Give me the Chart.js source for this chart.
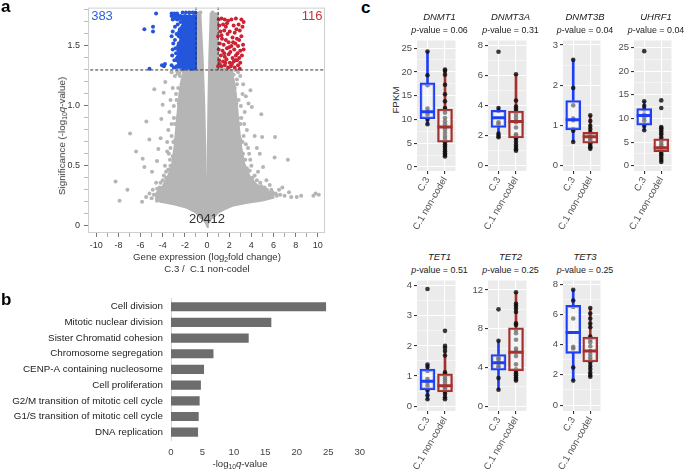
<!DOCTYPE html>
<html><head><meta charset="utf-8">
<script src="https://cdn.jsdelivr.net/npm/chart.js@4.4.1/dist/chart.umd.min.js"></script>
<style>
html,body{margin:0;padding:0;background:#fff;}
body{width:685px;height:471px;position:relative;overflow:hidden;font-family:"Liberation Sans",Arial,Helvetica,sans-serif;}
canvas{position:absolute;}
.t{position:absolute;white-space:nowrap;transform:translate(-50%,-50%);color:#1a1a1a;line-height:1;}
.r{transform:translate(-50%,-50%) rotate(-90deg);}
.pl{position:absolute;font-weight:bold;font-size:17px;line-height:1;color:#000;}
.sb{font-size:0.7em;position:relative;top:0.3em;}
</style></head><body>
<canvas id="volcano" width="335" height="252" style="left:0;top:0"></canvas>
<canvas id="goBar" width="372" height="186" style="left:0;top:285px"></canvas>
<div id="texts"></div>
<script>
// ================= Panel a : volcano =================
const downCount = 383, upCount = 116, nsCount = 20412;
const qCutoff = 1.30;      // -log10(0.05)
const fcCutoff = 1.0;      // |log2 FC|
const volcanoXMajor = [-10,-8,-6,-4,-2,0,2,4,6,8,10];
const volcanoYMajor = [0,0.5,1.0,1.5];
const volcanoYLabels = ['0','0.5','1.0','1.5'];
// dense grey cloud outline
const greyLobeLeft = [[0,-0.01],[-0.05,0.2],[-0.15,0.6],[-0.25,1.0],[-0.4,1.4],[-0.6,1.77],[-0.98,1.77],[-0.98,1.31],[-2.0,1.31],[-2.3,1.22],[-2.5,1.1],[-2.65,0.95],[-2.8,0.8],[-2.95,0.65],[-3.15,0.52],[-3.5,0.42],[-4.0,0.33],[-4.6,0.27],[-4.6,0.22],[-4.2,0.2],[-3.0,0.18],[-1.8,0.15],[-1.0,0.11],[-0.5,0.06]];
const greyLobeRight = [[0,-0.01],[0.05,0.2],[0.08,0.6],[0.12,1.0],[0.2,1.4],[0.33,1.77],[0.98,1.77],[0.98,1.31],[2.1,1.31],[2.4,1.22],[2.6,1.1],[2.75,0.95],[2.9,0.8],[3.1,0.65],[3.35,0.52],[3.8,0.42],[4.4,0.35],[5.2,0.3],[6.0,0.27],[6.0,0.235],[5.0,0.21],[3.5,0.19],[2.4,0.17],[1.6,0.14],[1.0,0.11],[0.5,0.06]];
const greyPoints = [[-8.26,0.37],[-7.9,0.21],[-7.19,0.30],[-6.95,0.77],[-6.41,0.62],[-5.87,0.20],[-5.81,0.56],[-5.66,0.49],[-5.48,0.87],[-5.21,0.72],[-4.97,0.45],[-4.76,1.14],[-4.52,0.54],[-4.40,0.64],[-4.19,0.73],[-4.01,1.01],[-4.13,0.89],[-4.28,0.32],[-4.52,0.21],[-4.07,0.24],[-3.92,1.11],[-3.77,1.20],
[10.09,0.26],[9.8,0.27],[9.6,0.25],[8.5,0.25],[7.4,0.28],[7.3,0.55],[6.14,0.74],[6.1,0.57],[6.8,0.32],[6.5,0.30],[4.9,0.93],[4.97,0.74],[4.3,0.75],[4.5,0.65],[4.76,0.6],[5.06,0.49],[5.36,0.38],[5.66,0.34],[4.04,0.99],[3.74,1.02],[3.92,1.13],[3.26,1.18],
[-3.4,0.95],[-3.5,0.8],[-3.3,1.05],[-3.6,0.62],[-3.8,0.5],[-3.9,0.42],[-4.6,0.36],[-4.9,0.3],[-5.2,0.27],[-5.5,0.24],[-3.1,1.15],[-2.9,1.25],[-3.2,1.28],[-2.7,1.29],[-3.0,0.9],[-3.2,0.75],[-3.35,0.55],[-3.7,0.4],[-4.3,0.28],[-2.8,1.1],[-2.5,1.27],[-3.6,0.7],[-3.3,0.65],
[3.0,1.25],[2.8,1.28],[3.2,1.1],[3.4,0.95],[3.6,0.8],[3.5,0.68],[3.8,0.6],[4.0,0.5],[4.3,0.42],[4.8,0.36],[5.2,0.32],[5.8,0.3],[6.2,0.27],[6.6,0.26],[7.0,0.25],[7.6,0.24],[8.1,0.24],[3.1,0.9],[3.3,0.75],[3.9,0.55],[4.6,0.45],[2.7,1.22],[3.5,1.08],
[-0.6,1.78],[-0.8,1.77],[0.5,1.78],[0.7,1.76],[0.85,1.7],[-0.95,1.5],[0.95,1.45],[-0.95,1.7],[0.9,1.6],
[-2.1,1.28],[-2.3,1.18],[-2.45,1.25],[-2.6,1.15],[-2.55,1.02],[-2.75,1.05],[-2.7,0.9],[-2.9,0.85],[-2.85,0.72],[-3.05,0.7],[-3.1,0.58],[-3.3,0.5],[-3.5,0.47],[-3.7,0.45],[-4.0,0.38],[-4.2,0.36],[-4.5,0.31],[-4.8,0.26],[-5.0,0.23],[-2.35,1.3],[-2.65,1.27],[-3.0,1.0],[-3.2,0.85],[-3.45,0.6],
[2.2,1.28],[2.4,1.26],[2.5,1.15],[2.7,1.18],[2.65,1.02],[2.85,1.05],[2.8,0.9],[3.0,0.85],[3.0,0.72],[3.2,0.7],[3.25,0.6],[3.45,0.55],[3.6,0.48],[3.85,0.46],[4.1,0.4],[4.5,0.38],[4.9,0.33],[5.4,0.3],[5.9,0.28],[6.3,0.25],[2.55,1.3],[3.05,1.0],[3.35,0.85],[3.7,0.65]];
const blueCore = [[-1.0,1.31],[-1.0,1.75],[-2.3,1.75],[-2.2,1.68],[-2.6,1.62],[-2.4,1.55],[-2.7,1.5],[-2.5,1.44],[-2.8,1.4],[-2.6,1.35],[-2.9,1.31]];
const bluePoints = [[-3.2,1.75],[-3.0,1.75],[-2.8,1.75],[-2.6,1.75],[-2.4,1.75],[-2.2,1.74],[-2.0,1.75],[-1.8,1.74],[-1.6,1.75],[-1.4,1.74],[-1.2,1.75],[-3.1,1.72],[-2.9,1.73],[-2.7,1.72],[-2.5,1.73],[-3.2,1.77],[-2.95,1.77],[-2.7,1.77],
[-4.6,1.77],[-5.66,1.64],[-4.88,1.66],[-4.88,1.62],[-5.2,1.31],[-4.07,1.34],[-3.9,1.33],[-3.8,1.35],
[-3.1,1.62],[-2.9,1.66],[-2.75,1.6],[-3.05,1.52],[-2.85,1.48],[-3.15,1.42],[-2.95,1.38],[-3.2,1.34],[-3.0,1.32],[-2.75,1.33],[-2.9,1.55],[-3.2,1.58],[-2.8,1.44],[-3.1,1.47],[-2.65,1.68],[-2.55,1.58],[-2.6,1.46],[-2.7,1.38],
[-2.4,1.7],[-2.45,1.64],[-2.3,1.58],[-2.55,1.52],[-2.4,1.41],[-2.5,1.36],[-2.35,1.33],[-2.2,1.62],[-2.1,1.7],[-1.05,1.78],[-1.3,1.78],[-1.6,1.78],[-1.9,1.78],[-2.2,1.78],[-1.5,1.31],[-1.8,1.32],[-2.1,1.31],[-1.2,1.31]];
const redPoints = [[1.05,1.72],[1.3,1.73],[1.6,1.72],[1.9,1.71],[2.2,1.72],[2.6,1.73],[3.1,1.72],[3.3,1.70],
[1.1,1.67],[1.45,1.68],[1.7,1.66],[2.4,1.67],[2.85,1.68],[3.2,1.66],
[1.2,1.62],[1.55,1.63],[2.05,1.62],[2.5,1.61],[2.95,1.63],[1.85,1.6],
[1.0,1.58],[1.35,1.56],[2.3,1.57],[2.7,1.56],[3.1,1.58],[1.7,1.55],
[1.15,1.52],[1.5,1.51],[1.95,1.53],[2.2,1.5],[2.55,1.52],[2.8,1.5],[3.25,1.51],
[1.05,1.47],[1.4,1.46],[1.8,1.48],[2.1,1.45],[2.45,1.47],[2.75,1.44],[3.0,1.46],[3.3,1.47],
[1.25,1.42],[1.6,1.41],[1.95,1.43],[2.3,1.4],[2.6,1.42],[2.9,1.4],[3.15,1.42],
[1.1,1.38],[1.45,1.37],[1.75,1.39],[2.05,1.36],[2.4,1.37],[2.7,1.38],[3.0,1.36],
[1.0,1.33],[1.3,1.33],[1.6,1.34],[1.9,1.32],[2.15,1.33],[2.5,1.32],[2.8,1.34],[2.95,1.31],
[1.15,1.35],[2.25,1.35],[1.55,1.44],[2.0,1.49],[2.35,1.53],[1.3,1.59],[2.65,1.64],[1.8,1.69],[2.9,1.55],[1.65,1.36],[2.55,1.38]];

// ================= Panel b : GO terms =================
const goTerms = ['Cell division','Mitotic nuclear division','Sister Chromatid cohesion','Chromosome segregation','CENP-A containing nucleosome','Cell proliferation','G2/M transition of mitotic cell cycle','G1/S transition of mitotic cell cycle','DNA replication'];
const goValues = [24.6,15.9,12.3,6.7,5.2,4.7,4.5,4.35,4.25];
const goTicks = [0,5,10,15,20,25,30];

// ================= Panel c : box plots =================
const groupNames = ['C.3','C.1 non-codel'];
const genes = ['DNMT1','DNMT3A','DNMT3B','UHRF1','TET1','TET2','TET3'];
const pValues = ['0.06','0.31','0.04','0.04','0.51','0.25','0.25'];
// points (FPKM) per group
const dnmt1_c3 = [24.3,19.3,17.2,12.3,11.6,11.0,10.0,9.0];
const dnmt1_c1 = [20.5,20.2,19.4,17.3,15.3,13.8,12.4,12.0,11.4,10.3,9.6,9.0,8.4,7.9,7.2,6.5,5.9,5.2,4.7,4.3,3.8,3.3,2.9,2.5,2.2];
const dnmt3a_c3 = [7.6,3.85,3.65,2.9,2.75,2.15,2.0,1.9];
const dnmt3a_c1 = [6.1,4.35,3.95,3.8,3.65,3.4,3.2,3.0,2.9,2.55,2.1,2.0,1.9,1.8,1.6,1.4,1.25,1.1,1.0];
const dnmt3b_c3 = [2.63,1.93,1.5,1.17,1.13,0.91,0.87,0.59];
const dnmt3b_c1 = [1.25,1.11,0.99,0.91,0.83,0.79,0.75,0.71,0.67,0.63,0.56,0.5,0.46,0.42];
const uhrf1_c3 = [24.2,13.6,12.6,11.9,10.8,10.2,9.5,8.4,7.5];
const uhrf1_c1 = [13.8,12.2,8.2,7.9,7.5,7.0,6.6,6.0,5.5,5.0,4.5,4.1,3.8,3.4,3.0,2.6,2.2,1.7,1.2,0.8];
const tet1_c3 = [3.89,1.38,1.3,1.17,0.9,0.79,0.68,0.52,0.36,0.23];
const tet1_c1 = [2.5,2.0,1.93,1.83,1.68,1.12,1.07,1.0,0.92,0.85,0.77,0.68,0.63,0.58,0.49,0.41,0.3,0.23];
const tet2_c3 = [10.0,6.76,5.0,4.83,4.5,4.16,4.0,2.9,1.69];
const tet2_c1 = [11.76,10.57,10.34,10.07,9.73,8.55,8.38,7.87,7.53,6.86,5.95,5.68,5.17,4.32,3.82,3.65,3.41,3.18,2.97,2.8,2.64];
const tet3_c3 = [7.63,6.92,6.49,5.73,3.85,3.74,2.49,1.62];
const tet3_c1 = [6.42,6.05,5.73,5.4,5.15,4.54,4.32,4.15,3.89,3.57,3.35,3.14,2.98,2.81,2.59,2.38,2.16,1.99,1.88];
// box stats: [lower whisker, Q1, median, Q3, upper whisker]
const dnmt1_box_c3 = [9.0,10.1,11.6,17.7,24.3];
const dnmt1_box_c1 = [2.2,5.2,8.4,12.2,20.5];
const dnmt3a_box_c3 = [1.9,2.55,3.2,3.7,3.85];
const dnmt3a_box_c1 = [1.0,1.85,2.95,3.65,6.1];
const dnmt3b_box_c3 = [0.59,0.89,1.14,1.62,2.63];
const dnmt3b_box_c1 = [0.42,0.56,0.72,0.83,1.25];
const uhrf1_box_c3 = [7.5,8.6,10.6,12.1,13.6];
const uhrf1_box_c1 = [0.8,3.0,3.8,5.7,8.2];
const tet1_box_c3 = [0.23,0.54,0.83,1.23,1.38];
const tet1_box_c1 = [0.23,0.47,0.68,1.07,1.83];
const tet2_box_c3 = [1.69,3.72,4.49,5.34,6.76];
const tet2_box_c1 = [2.64,3.65,5.57,8.1,11.76];
const tet3_box_c3 = [1.62,3.42,4.8,6.59,7.63];
const tet3_box_c1 = [1.88,2.85,3.57,4.5,6.42];
// y-axis major ticks per gene
const dnmt1_yticks = [0,5,10,15,20,25];
const dnmt3a_yticks = [0,2,4,6,8];
const dnmt3b_yticks = [0,1,2,3];
const uhrf1_yticks = [0,5,10,15,20,25];
const tet1_yticks = [0,1,2,3,4];
const tet2_yticks = [0,4,8,12];
const tet3_yticks = [0,2,4,6,8];

// ---------- layout (positions, not data) ----------
const FONT = '"Liberation Sans", Arial, Helvetica, sans-serif';
Chart.defaults.font.family = FONT;
Chart.defaults.animation = false;
Chart.defaults.events = [];
Chart.defaults.plugins.legend.display = false;
Chart.defaults.plugins.tooltip.enabled = false;

const panelBg = {id:'panelBg', beforeDraw(chart,args,opts){ if(!opts||!opts.color) return; const a=chart.chartArea,c=chart.ctx; c.save(); c.fillStyle=opts.color; c.fillRect(a.left,a.top,a.right-a.left,a.bottom-a.top); c.restore(); }};
const frame = {id:'frame', afterDatasetsDraw(chart,args,opts){ if(!opts||!opts.color) return; const a=chart.chartArea,c=chart.ctx; c.save(); c.strokeStyle=opts.color; c.lineWidth=1; c.strokeRect(a.left+0.5,a.top+0.5,a.right-a.left-1,a.bottom-a.top-1); c.restore(); }};
Chart.register(panelBg, frame);

const near = (a,b)=>Math.abs(a-b)<1e-6;
const xy = arr => arr.map(p=>({x:p[0],y:p[1]}));

// ---------- volcano ----------
(function(){
  const xTicks=[]; for(let v=-10; v<=10; v++) xTicks.push(v);
  const yTicks=[]; for(let i=0;i<=18;i++) yTicks.push(i/10);
  const GREY='#b5b5b5', BLUE='#2456dc', RED='#cc2233';
  new Chart(document.getElementById('volcano'),{
    type:'scatter',
    data:{datasets:[
      {type:'line', data:[{x:-11,y:qCutoff},{x:11,y:qCutoff}], borderColor:'#333', borderWidth:1, borderDash:[3,2], pointRadius:0, order:0},
      {type:'line', data:[{x:-fcCutoff,y:qCutoff},{x:-fcCutoff,y:2}], borderColor:'#333', borderWidth:1, borderDash:[3,2], pointRadius:0, order:0},
      {type:'line', data:[{x:fcCutoff,y:qCutoff},{x:fcCutoff,y:2}], borderColor:'#333', borderWidth:1, borderDash:[3,2], pointRadius:0, order:0},
      {data:xy(redPoints), backgroundColor:RED, pointRadius:2, borderWidth:0, order:1},
      {data:xy(bluePoints), backgroundColor:BLUE, pointRadius:2, borderWidth:0, order:2},
      {type:'line', data:xy(blueCore), fill:'shape', backgroundColor:BLUE, borderColor:BLUE, borderWidth:2, pointRadius:0, tension:0, order:3},
      {data:xy(greyPoints), backgroundColor:GREY, pointRadius:2, borderWidth:0, order:4},
      {type:'line', data:xy(greyLobeLeft), fill:'shape', backgroundColor:GREY, borderColor:GREY, borderWidth:2, pointRadius:0, tension:0, order:5},
      {type:'line', data:xy(greyLobeRight), fill:'shape', backgroundColor:GREY, borderColor:GREY, borderWidth:2, pointRadius:0, tension:0, order:5}
    ]},
    options:{responsive:false, layout:{padding:{top:4,right:10,left:0,bottom:0}},
      plugins:{frame:{color:'#cfcfcf'}},
      scales:{
        x:{type:'linear', min:-10.75, max:10.65,
           afterBuildTicks:a=>{a.ticks=xTicks.map(v=>({value:v}));},
           ticks:{autoSkip:false, maxRotation:0, color:'#333', font:{size:9}, padding:3,
                  callback:v=>volcanoXMajor.includes(v)?String(v):''},
           grid:{drawOnChartArea:false, tickLength:4, tickColor:c=>volcanoXMajor.includes(c.tick.value)?'#777':'#aaa'},
           border:{display:false}, afterFit:a=>{a.height=19;}},
        y:{type:'linear', min:-0.06, max:1.82,
           afterBuildTicks:a=>{a.ticks=yTicks.map(v=>({value:v}));},
           ticks:{autoSkip:false, color:'#333', font:{size:9, lineHeight:0.8}, padding:4,
                  callback:v=>{const i=volcanoYMajor.findIndex(m=>near(m,v)); return i>=0?volcanoYLabels[i]:'';}},
           grid:{drawOnChartArea:false, tickLength:4, tickColor:c=>volcanoYMajor.some(m=>near(m,c.tick.value))?'#777':'#bbb'},
           border:{display:false}, afterFit:a=>{a.width=88;}}
      }}
  });
})();

// ---------- GO bar chart ----------
new Chart(document.getElementById('goBar'),{
  type:'bar',
  data:{labels:goTerms, datasets:[{data:goValues, backgroundColor:'#6d6d6d', barThickness:8.5}]},
  options:{responsive:false, indexAxis:'y', layout:{padding:{top:10,right:8,left:0,bottom:0}},
    scales:{
      x:{type:'linear', min:0, max:30, afterBuildTicks:a=>{a.ticks=goTicks.map(v=>({value:v}));},
         ticks:{color:'#444', font:{size:9.5}, padding:7, maxRotation:0},
         grid:{display:false, drawTicks:false, tickLength:0}, border:{display:false}, afterFit:a=>{a.height=31;}},
      y:{ticks:{color:'#222', font:{size:9.8}, padding:8, autoSkip:false},
         grid:{display:false, drawTicks:false, tickLength:0}, border:{display:true, color:'#d4d4d4', width:1}, afterFit:a=>{a.width=171;}}
    }}
});

// ---------- box plots ----------
const BOXBLUE='#1f3ff2', BOXRED='#a3312e';
function makeBox(rect, yLim, yMajor, c3, c1, c3Box, c1Box){
  const [L,T,R,B] = rect;
  const YW=26, PT=8, PR=4, XH=66;
  const cv=document.createElement('canvas');
  cv.width=YW+(R-L)+PR; cv.height=PT+(B-T)+XH;
  cv.style.left=(L-YW)+'px'; cv.style.top=(T-PT)+'px';
  document.body.appendChild(cv);
  const step=yMajor[1]-yMajor[0];
  const ticks=[...yMajor];
  for(let i=0;i<yMajor.length;i++){ const m=yMajor[i]+step/2; if(m<yLim[1]) ticks.push(m); }
  if(yMajor[0]-step/2>yLim[0]) ticks.push(yMajor[0]-step/2);
  ticks.sort((a,b)=>a-b);
  const isMajor=v=>yMajor.some(m=>near(m,v));
  const pts=[...c3.map(v=>({x:1,y:v})), ...c1.map(v=>({x:2,y:v}))];
  new Chart(cv,{
    type:'bar',
    data:{datasets:[
      {type:'scatter', data:[{x:1,y:c3Box[2]},{x:2,y:c1Box[2]}], pointStyle:'line', pointRadius:7.5, borderWidth:3, borderColor:[BOXBLUE,BOXRED], order:1},
      {type:'bar', data:[{x:1,y:[c3Box[1],c3Box[3]]},{x:2,y:[c1Box[1],c1Box[3]]}], backgroundColor:'rgba(255,255,255,0.42)', borderColor:[BOXBLUE,BOXRED], borderWidth:2, borderSkipped:false, barThickness:15, grouped:false, order:2},
      {type:'scatter', data:pts, pointRadius:2.3, backgroundColor:'rgba(15,15,15,0.82)', borderWidth:0, order:3},
      {type:'bar', data:[{x:1,y:[c3Box[0],c3Box[1]]},{x:2,y:[c1Box[0],c1Box[1]]}], backgroundColor:[BOXBLUE,BOXRED], borderWidth:0, barThickness:2, grouped:false, order:4},
      {type:'bar', data:[{x:1,y:[c3Box[3],c3Box[4]]},{x:2,y:[c1Box[3],c1Box[4]]}], backgroundColor:[BOXBLUE,BOXRED], borderWidth:0, barThickness:2, grouped:false, order:4}
    ]},
    options:{responsive:false, layout:{padding:{top:PT,right:PR,left:0,bottom:0}},
      plugins:{panelBg:{color:'#ebebeb'}},
      scales:{
        x:{type:'linear', offset:false, min:0.4, max:2.6, afterBuildTicks:a=>{a.ticks=[{value:1},{value:2}];},
           ticks:{callback:v=>groupNames[v-1], minRotation:60, maxRotation:60, autoSkip:false, color:'#4d4d4d', font:{size:9.5}, padding:1},
           grid:{offset:false, color:'#ffffff', lineWidth:1.1, tickColor:'#333', tickLength:3}, border:{display:false}, afterFit:a=>{a.height=XH;}},
        y:{type:'linear', min:yLim[0], max:yLim[1], afterBuildTicks:a=>{a.ticks=ticks.map(v=>({value:v}));},
           ticks:{callback:v=>isMajor(v)?String(v):'', autoSkip:false, color:'#4d4d4d', font:{size:9.5}, padding:2},
           grid:{color:'#ffffff', lineWidth:c=>isMajor(c.tick.value)?1.1:0.5, tickColor:c=>isMajor(c.tick.value)?'#333':'rgba(0,0,0,0)', tickLength:3},
           border:{display:false}, afterFit:a=>{a.width=YW;}}
      }}
  });
}
const boxRects = [[417,38,462,171],[488,38,533,171],[563,38,607,171],[634,38,678,171],[417,278,462,411],[488,278,533,411],[563,278,607,411]];
const yLims = [[-0.85,26.6],[-0.35,8.35],[-0.13,3.11],[-1.1,26.45],[-0.16,4.17],[-0.5,12.98],[-0.39,8.24]];
makeBox(boxRects[0], yLims[0], dnmt1_yticks, dnmt1_c3, dnmt1_c1, dnmt1_box_c3, dnmt1_box_c1);
makeBox(boxRects[1], yLims[1], dnmt3a_yticks, dnmt3a_c3, dnmt3a_c1, dnmt3a_box_c3, dnmt3a_box_c1);
makeBox(boxRects[2], yLims[2], dnmt3b_yticks, dnmt3b_c3, dnmt3b_c1, dnmt3b_box_c3, dnmt3b_box_c1);
makeBox(boxRects[3], yLims[3], uhrf1_yticks, uhrf1_c3, uhrf1_c1, uhrf1_box_c3, uhrf1_box_c1);
makeBox(boxRects[4], yLims[4], tet1_yticks, tet1_c3, tet1_c1, tet1_box_c3, tet1_box_c1);
makeBox(boxRects[5], yLims[5], tet2_yticks, tet2_c3, tet2_c1, tet2_box_c3, tet2_box_c1);
makeBox(boxRects[6], yLims[6], tet3_yticks, tet3_c3, tet3_c1, tet3_box_c3, tet3_box_c1);

// ---------- text labels ----------
let html = '';
const txt=(x,y,s,style,cls)=>{html+=`<div class="t ${cls||''}" style="left:${x}px;top:${y}px;${style||''}">${s}</div>`;};
html += '<div class="pl" style="left:1px;top:-2px">a</div>';
html += '<div class="pl" style="left:1px;top:291px">b</div>';
html += '<div class="pl" style="left:361px;top:-1px">c</div>';
txt(102,15,String(downCount),'font-size:13px;color:#2f5fe0;');
txt(312,15,String(upCount),'font-size:13px;color:#c4323a;');
txt(207,218,String(nsCount),'font-size:13px;color:#333;');
txt(207,257,'Gene expression (log<span class="sb">2</span>fold change)','font-size:9.6px;color:#333;');
txt(207,269,'C.3 /&nbsp; C.1 non-codel','font-size:9.6px;color:#333;');
txt(62,136,'Significance (-log<span class="sb">10</span><i>q</i>-value)','font-size:9.8px;color:#333;','r');
txt(240,464,'-log<span class="sb">10</span><i>q</i>-value','font-size:9.6px;color:#333;');
txt(396,100,'FPKM','font-size:9.8px;color:#333;','r');
genes.forEach((g,i)=>{
  const r=boxRects[i]; const cx=(r[0]+r[2])/2; const top=i<4?17:257;
  txt(cx, top, `<i>${g}</i>`, 'font-size:9.5px;color:#1a1a1a;');
  txt(cx, top+12.5, `<i>p</i>-value = ${pValues[i]}`, 'font-size:8.9px;color:#1a1a1a;');
});
document.getElementById('texts').innerHTML = html;
</script>
</body></html>
